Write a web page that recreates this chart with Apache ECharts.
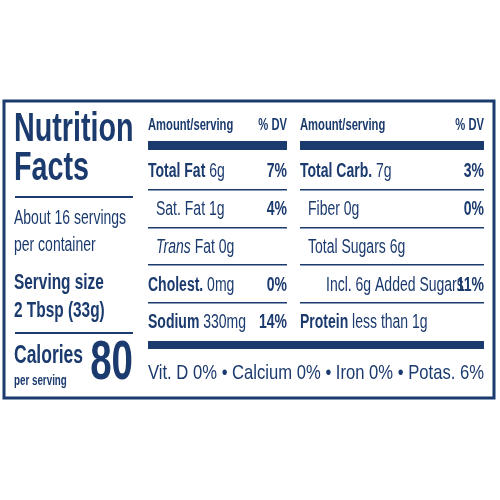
<!DOCTYPE html><html><head><meta charset="utf-8">
<script src="https://cdn.jsdelivr.net/npm/echarts@6/dist/echarts.min.js"></script>
<style>html,body{margin:0;background:#fff}#c{width:500px;height:500px}</style></head><body><div id="c"></div>
<script>
const NAVY = '#1b3a6e';
const FONT = '"Liberation Sans", Arial, sans-serif';
const SX = 0.7;
// Data
const leftNames = ['Total Fat', 'Sat. Fat', 'Trans Fat', 'Cholest.', 'Sodium'];
const leftAmounts = ['6g', '1g', '0g', '0mg', '330mg'];
const leftDV = ['7%', '4%', '', '0%', '14%'];
const rightNames = ['Total Carb.', 'Fiber', 'Total Sugars', 'Incl. 6g Added Sugars', 'Protein'];
const rightAmounts = ['7g', '0g', '6g', '', 'less than 1g'];
const rightDV = ['3%', '0%', '', '11%', ''];
const vitamins = ['Vit. D 0%', 'Calcium 0%', 'Iron 0%', 'Potas. 6%'];
const servings = ['About 16 servings', 'per container'];
const servingSize = ['Serving size', '2 Tbsp (33g)'];
const calories = 80;

const rowY = [171, 209, 247, 285, 322];
const sepY = [189, 227, 264, 302];
const boldRow = [true, false, false, true, true];
const indent = [0, 8, 8, 0, 0];
const rIndent = [0, 8, 8, 26, 0];
const rBold = [true, false, false, false, true];

const g = [];
function txt(x, y, text, size, weight, align, rich, sx) {
  g.push({type: 'text', x, y, scaleX: sx || SX, style: {text, fill: NAVY,
    fontFamily: FONT, fontSize: size, fontWeight: weight||'normal', align: align||'left', verticalAlign: 'middle', rich: rich}});
}
function rect(x, y, w, h) { g.push({type: 'rect', shape: {x, y, width: w, height: h}, style: {fill: NAVY}}); }

g.push({type: 'rect', shape: {x: 4, y: 101, width: 490, height: 297}, style: {fill: 'none', stroke: NAVY, lineWidth: 3}});
txt(14, 130, 'Nutrition', 41, 'bold');
txt(14, 169, 'Facts', 41, 'bold');
rect(15, 196, 118, 2);
txt(14, 218, servings[0], 20);
txt(14, 245, servings[1], 20);
txt(14, 283, servingSize[0], 22, 'bold');
txt(14, 311, servingSize[1], 22, 'bold');
rect(15, 332, 118, 2);
txt(14, 356, 'Calories', 25, 'bold');
txt(14, 381, 'per serving', 14, 'bold');
txt(133, 364, String(calories), 55, 'bold', 'right');

const rich = (size) => ({
  b: {fontFamily: FONT, fontSize: size, fontWeight: 'bold', fill: NAVY},
  r: {fontFamily: FONT, fontSize: size, fill: NAVY},
  i: {fontFamily: FONT, fontSize: size, fontStyle: 'italic', fill: NAVY}
});
function column(x0, x1, names, amounts, dvs, bold, ind) {
  txt(x0, 126, 'Amount/serving', 16, 'bold');
  txt(x1, 126, '% DV', 16, 'bold', 'right');
  rect(x0, 141, x1 - x0, 9);
  names.forEach((n, i) => {
    let label;
    if (n === 'Trans Fat') label = '{i|Trans}{r| Fat ' + amounts[i] + '}';
    else label = '{' + (bold[i] ? 'b' : 'r') + '|' + n + '}' + (amounts[i] ? '{r| ' + amounts[i] + '}' : '');
    txt(x0 + ind[i], rowY[i], label, 20, 'normal', 'left', rich(20));
    if (dvs[i]) txt(x1, rowY[i], dvs[i], 20, 'bold', 'right');
  });
  sepY.forEach(y => rect(x0, y, x1 - x0, 1.5));
}
column(148, 287, leftNames, leftAmounts, leftDV, boldRow, indent);
column(300, 484, rightNames, rightAmounts, rightDV, rBold, rIndent);
rect(148, 341, 336, 8);
const vitText = vitamins.join(' • ');
const ctx = document.createElement('canvas').getContext('2d');
ctx.font = '21px ' + FONT;
const vw = ctx.measureText(vitText).width;
txt(148, 373, vitText, 21, 'normal', 'left', null, 336 / vw);

const chart = echarts.init(document.getElementById('c'));
chart.setOption({animation: false, graphic: {elements: g}});
</script></body></html>
